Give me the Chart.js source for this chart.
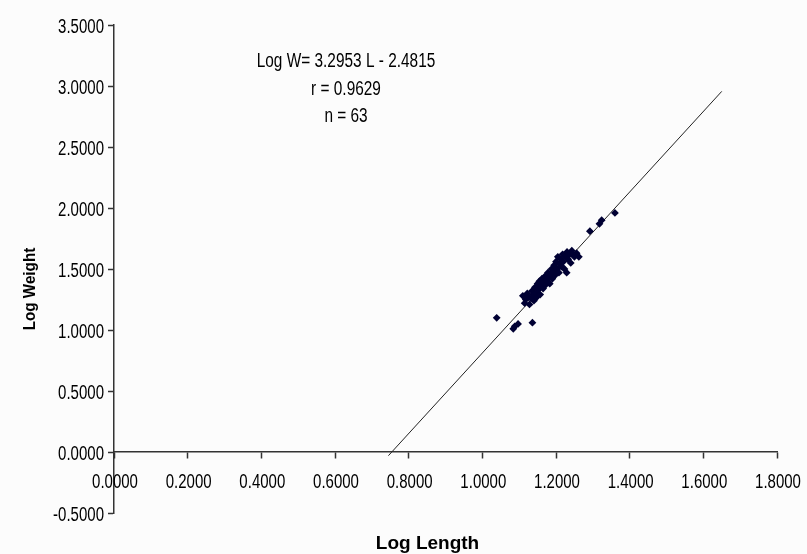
<!DOCTYPE html>
<html>
<head>
<meta charset="utf-8">
<script src="https://cdn.jsdelivr.net/npm/chart.js@4.4.1/dist/chart.umd.min.js"></script>
<style>
    html, body { margin: 0; padding: 0; background: #fcfcfc; }
    #wrap { width: 807px; height: 554px; position: relative; }
</style>
</head>
<body>
<div id="wrap"><canvas id="chart"></canvas></div>
<script>
// Log length / log weight of the 63 fish
const logLength = [
    1.039, 1.084, 1.088, 1.097, 1.136, 1.292, 1.318, 1.324, 1.360, 1.229, 1.256, 1.245, 1.262,
    1.110, 1.115, 1.118, 1.122, 1.125, 1.128, 1.132, 1.135, 1.138, 1.140,
    1.143, 1.146, 1.148, 1.150, 1.152, 1.155, 1.157, 1.160, 1.162, 1.165,
    1.168, 1.170, 1.172, 1.175, 1.178, 1.180, 1.183, 1.185, 1.188, 1.190,
    1.193, 1.195, 1.198, 1.200, 1.203, 1.205, 1.208, 1.210, 1.213, 1.215,
    1.218, 1.220, 1.223, 1.226, 1.230, 1.233, 1.236, 1.240, 1.243, 1.250
];
const logWeight = [
    1.10, 1.01, 1.03, 1.05, 1.06, 1.81, 1.87, 1.90, 1.96, 1.47, 1.63, 1.62, 1.60,
    1.28, 1.22, 1.25, 1.30, 1.27, 1.21, 1.26, 1.32, 1.29, 1.24,
    1.35, 1.30, 1.27, 1.38, 1.33, 1.40, 1.29, 1.36, 1.42, 1.34,
    1.39, 1.44, 1.37, 1.41, 1.47, 1.43, 1.38, 1.46, 1.50, 1.42,
    1.48, 1.53, 1.45, 1.56, 1.50, 1.60, 1.47, 1.54, 1.58, 1.52,
    1.62, 1.56, 1.50, 1.60, 1.64, 1.58, 1.62, 1.55, 1.65, 1.60
];

// Trend line ends as drawn
const trendX = [0.745, 1.650];
const trendY = [-0.030, 2.956];

// Annotation text
const noteLines = ["Log W= 3.2953 L - 2.4815", "r = 0.9629", "n = 63"];
const xTitle = "Log Length";
const yTitle = "Log Weight";

const sans = '"Liberation Sans", Arial, sans-serif';
const squeeze = 0.77;

// text squeezed sideways like the original picture
function squished(ctx, text, x, y, align, sx) {
    ctx.save();
    ctx.translate(x, y);
    ctx.scale(sx, 1);
    ctx.textAlign = align;
    ctx.fillText(text, 0, 0);
    ctx.restore();
}

const textPlugin = {
    id: 'labels',
    afterDraw(chart) {
        const ctx = chart.ctx;
        const xs = chart.scales.x, ys = chart.scales.y;
        ctx.save();
        ctx.fillStyle = '#000';
        ctx.textBaseline = 'alphabetic';

        // tick labels
        ctx.font = '19.5px ' + sans;
        ys.ticks.forEach(t => {
            squished(ctx, t.value.toFixed(4), 104, ys.getPixelForValue(t.value) + 8, 'right', squeeze);
        });
        xs.ticks.forEach(t => {
            squished(ctx, t.value.toFixed(4), xs.getPixelForValue(t.value) + 1, 487.5, 'center', squeeze);
        });

        // equation block
        ctx.font = '20px ' + sans;
        const cx = 346;
        [66.7, 95, 121.5].forEach((y, i) => squished(ctx, noteLines[i], cx, y, 'center', squeeze));

        // axis titles
        ctx.font = 'bold 19px ' + sans;
        squished(ctx, xTitle, 427.5, 549, 'center', 1);
        ctx.translate(35, 289);
        ctx.rotate(-Math.PI / 2);
        ctx.font = 'bold 16px ' + sans;
        squished(ctx, yTitle, 0, 0, 'center', 0.95);
        ctx.restore();
    }
};

function initChart() {
    const ctx = document.getElementById('chart').getContext('2d');
    new Chart(ctx, {
        type: 'scatter',
        data: {
            datasets: [{
                label: 'fish',
                data: logLength.map((x, i) => ({ x: x, y: logWeight[i] })),
                pointStyle: 'rectRot',
                pointRadius: 3.9,
                backgroundColor: '#000033',
                borderColor: '#000033',
                borderWidth: 0
            }, {
                label: 'trend',
                type: 'line',
                data: trendX.map((x, i) => ({ x: x, y: trendY[i] })),
                borderColor: '#222',
                borderWidth: 1,
                pointRadius: 0,
                fill: false
            }]
        },
        options: {
            responsive: true,
            maintainAspectRatio: false,
            animation: false,
            layout: { padding: { left: 0, top: 25, right: 30, bottom: 41 } },
            plugins: { legend: { display: false }, tooltip: { enabled: false } },
            scales: {
                x: {
                    type: 'linear',
                    position: { y: 0 },
                    min: 0, max: 1.8,
                    grid: { drawOnChartArea: false, tickLength: 6, color: '#333', tickWidth: 1.5 },
                    border: { color: '#333', width: 1.5 },
                    ticks: { display: false, stepSize: 0.2 }
                },
                y: {
                    min: -0.5, max: 3.5,
                    grid: { drawOnChartArea: false, tickLength: 6, color: '#333', tickWidth: 1.5 },
                    border: { color: '#333', width: 1.5 },
                    ticks: { display: false, stepSize: 0.5 },
                    afterFit: s => { s.width = 114; }
                }
            }
        },
        plugins: [textPlugin]
    });
}

window.onload = initChart;
</script>
</body>
</html>
